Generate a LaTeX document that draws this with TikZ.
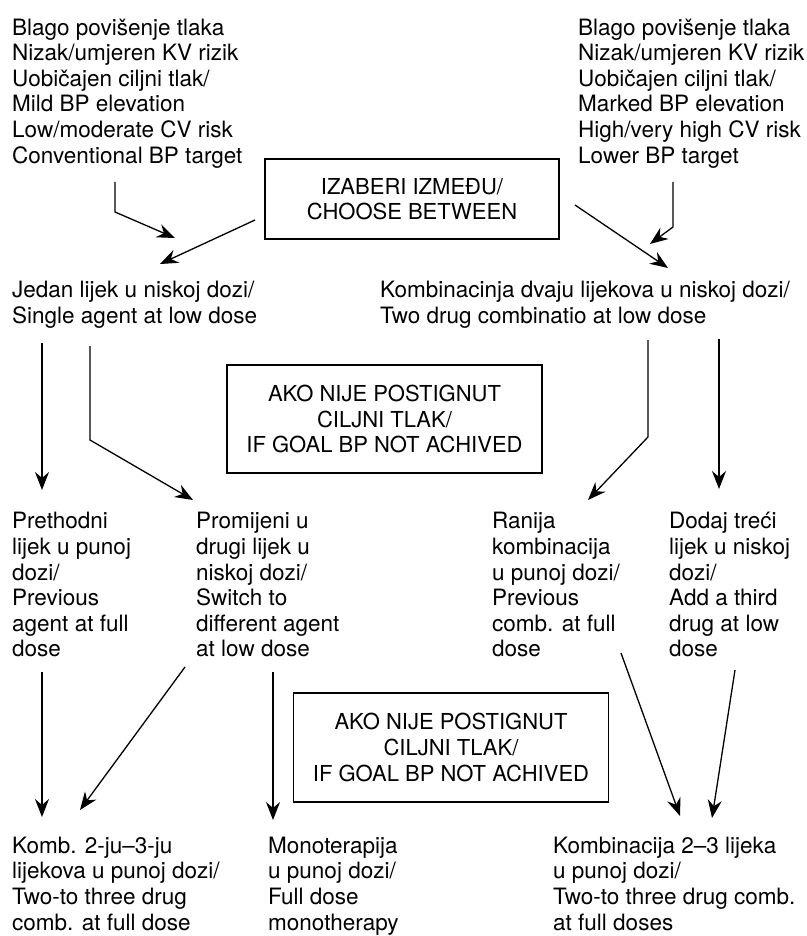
\documentclass[tikz,border=0pt]{standalone}
\usepackage{fontspec}
\setmainfont{TeX Gyre Heros}
\usetikzlibrary{arrows.meta}
\newcommand\firstline{\rule{0pt}{17pt}}
\begin{document}
\begin{tikzpicture}[x=1pt,y=-1pt,
  txt/.style={anchor=north west,align=left,inner sep=0pt,font=\fontsize{22.5}{25.6}\selectfont},
  box/.style={draw,line width=1.2pt,align=center,inner sep=0pt,font=\fontsize{22}{25.6}\selectfont},
  arr/.style={line width=1.3pt,-{Stealth[length=18pt,width=14pt,inset=6pt]}}]
\useasboundingbox (0,0) rectangle (806,936);
% texts
\node[txt] (tl) at (12,18) {\firstline Blago povišenje tlaka\\Nizak/umjeren KV rizik\\Uobičajen ciljni tlak/\\Mild BP elevation\\Low/moderate CV risk\\Conventional BP target};
\node[txt] (tr) at (578,18) {\firstline Blago povišenje tlaka\\Nizak/umjeren KV rizik\\Uobičajen ciljni tlak/\\Marked BP elevation\\High/very high CV risk\\Lower BP target};
\node[box,minimum width=294pt,minimum height=80pt] (choose) at (412,199) {IZABERI IZMEĐU/\\CHOOSE BETWEEN};
\node[txt] (single) at (12,280.4) {\firstline Jedan lijek u niskoj dozi/\\Single agent at low dose};
\node[txt] (two) at (380,280.4) {\firstline Kombinacinja dvaju lijekova u niskoj dozi/\\Two drug combinatio at low dose};
\node[box,minimum width=315pt,minimum height=108pt] (goal1) at (384.5,419) {AKO NIJE POSTIGNUT\\CILJNI TLAK/\\IF GOAL BP NOT ACHIVED};
\node[txt] (prev) at (12,511.6) {\firstline Prethodni\\lijek u punoj\\dozi/\\Previous\\agent at full\\dose};
\node[txt] (switch) at (196,511.6) {\firstline Promijeni u\\drugi lijek u\\niskoj dozi/\\Switch to\\different agent\\at low dose};
\node[txt] (ranija) at (492,511.6) {\firstline Ranija\\kombinacija\\u punoj dozi/\\Previous\\comb. at full\\dose};
\node[txt] (third) at (669,511.6) {\firstline Dodaj treći\\lijek u niskoj\\dozi/\\Add a third\\drug at low\\dose};
\node[box,minimum width=315pt,minimum height=109pt] (goal2) at (451,747.5) {AKO NIJE POSTIGNUT\\CILJNI TLAK/\\IF GOAL BP NOT ACHIVED};
\node[txt] (komb) at (12,836) {\firstline Komb. 2-ju–3-ju\\lijekova u punoj dozi/\\Two-to three drug\\comb. at full dose};
\node[txt] (mono) at (268,836) {\firstline Monoterapija\\u punoj dozi/\\Full dose\\monotherapy};
\node[txt] (kombi) at (553,836) {\firstline Kombinacija 2–3 lijeka\\u punoj dozi/\\Two-to three drug comb.\\at full doses};
% connector end points
\coordinate (a1s) at (115,182); \coordinate (a1k) at (115,212); \coordinate (a1e) at (175,238);
\coordinate (a2s) at (255,220); \coordinate (a2e) at (160,264);
\coordinate (a3s) at (673,182); \coordinate (a3k) at (673,227); \coordinate (a3e) at (650,244);
\coordinate (a4s) at (575,205); \coordinate (a4e) at (668,268);
\coordinate (b1s) at (42,343); \coordinate (b1e) at (42,490);
\coordinate (b2s) at (90,346); \coordinate (b2k) at (90,440); \coordinate (b2e) at (193,500);
\coordinate (b3s) at (648,340); \coordinate (b3k) at (648,437); \coordinate (b3e) at (588,500);
\coordinate (b4s) at (719,339); \coordinate (b4e) at (719,489);
\coordinate (c1s) at (42,672); \coordinate (c1e) at (42,817);
\coordinate (c2s) at (185,667); \coordinate (c2e) at (80,810);
\coordinate (c3s) at (273,672); \coordinate (c3e) at (273,820);
\coordinate (c4s) at (621,653); \coordinate (c4e) at (680,816);
\coordinate (c5s) at (735,670); \coordinate (c5e) at (712,818);
% connectors
\draw[arr] (a1s) -- (a1k) -- (a1e);
\draw[arr] (a2s) -- (a2e);
\draw[arr] (a3s) -- (a3k) -- (a3e);
\draw[arr] (a4s) -- (a4e);
\draw[arr] (b1s) -- (b1e);
\draw[arr] (b2s) -- (b2k) -- (b2e);
\draw[arr] (b3s) -- (b3k) -- (b3e);
\draw[arr] (b4s) -- (b4e);
\draw[arr] (c1s) -- (c1e);
\draw[arr] (c2s) -- (c2e);
\draw[arr] (c3s) -- (c3e);
\draw[arr] (c4s) -- (c4e);
\draw[arr] (c5s) -- (c5e);
\end{tikzpicture}
\end{document}
